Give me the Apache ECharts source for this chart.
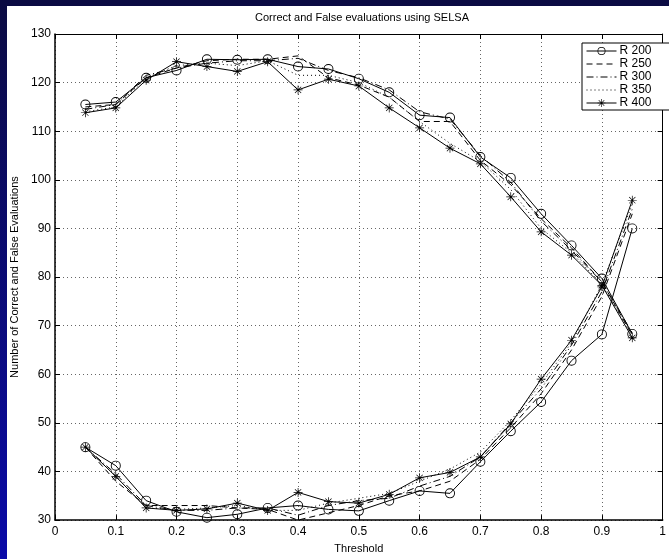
<!DOCTYPE html>
<html><head><meta charset="utf-8">
<script src="https://cdn.jsdelivr.net/npm/echarts@6/dist/echarts.min.js"></script>
<style>
html,body{margin:0;padding:0;}
#bg{position:absolute;left:0;top:0;width:669px;height:559px;background:linear-gradient(to bottom,#0b0b42,#0a0aa8);overflow:hidden;}
#paper{position:absolute;left:7px;top:6px;width:662px;height:553px;background:#fff;}
#chart{position:absolute;left:0;top:0;width:669px;height:559px;}
</style></head>
<body>
<div id="bg"><div id="paper"></div><div id="chart"></div></div>
<script>
const thresholds = [0.05,0.1,0.15,0.2,0.25,0.3,0.35,0.4,0.45,0.5,0.55,0.6,0.65,0.7,0.75,0.8,0.85,0.9,0.95];
const seriesNames = ['R 200','R 250','R 300','R 350','R 400'];
// upper (correct) curves
const correctR200 = [115.5,116,121,122.5,124.8,124.7,124.8,123.3,122.8,120.8,118,113.3,112.8,104.7,100.4,93,86.5,79.7,68.3];
const correctR250 = [115,115.5,121,123,124.5,124.8,124.8,125.5,121,119.5,117,112,112,104,99,92,86,79,68];
const correctR300 = [114.5,115.5,121.5,123,124,124.5,124.5,125,122.5,121,118.5,114,112.5,105,99.5,91.5,85.5,79,68.5];
const correctR350 = [114,115,121,123.5,124,123.5,124.5,121.5,121.5,120,117,112,107.5,103.8,98,90,85,78.5,68];
const correctR400 = [113.8,114.8,120.5,124.3,123.3,122.3,124.3,118.5,120.7,119.3,114.8,110.7,106.5,103.3,96.5,89.3,84.5,78.3,67.5];
// lower (false) curves
const falseR200 = [45,41.2,34,31.7,30.5,31.2,32.5,33,32.2,31.9,34,36,35.5,42,48.3,54.3,62.8,68.2,90];
const falseR250 = [45,38,33,33,33,32.5,32.2,30,31.5,33,35,36,38,42.5,49,56,65,76,93];
const falseR300 = [45,39.5,33,32,32,32.5,32.5,31,33,34,34.5,37,39,43,50,57,66,77,94];
const falseR350 = [45,39,32.5,32.2,32.5,33,32,32,33.5,34.5,35.5,38,40.5,44,50.5,58,66.5,78.5,95];
const falseR400 = [45,39,32.5,32,32.3,33.5,32,35.7,33.8,33.5,35.3,38.7,39.8,43,49.8,59,67,78,95.8];
const yTicks = [30,40,50,60,70,80,90,100,110,120,130];

const correctSets = [correctR200,correctR250,correctR300,correctR350,correctR400];
const falseSets = [falseR200,falseR250,falseR300,falseR350,falseR400];

const ringPath = 'path://M5,0A5,5 0 1,1 5,10A5,5 0 1,1 5,0Z M5,0.9A4.1,4.1 0 1,0 5,9.1A4.1,4.1 0 1,0 5,0.9Z';
const starPath = 'path://M0,4.6L10,4.6L10,5.4L0,5.4Z M4.6,0L5.4,0L5.4,10L4.6,10Z M1.25,1.8L1.8,1.25L8.75,8.2L8.2,8.75Z M8.2,1.25L8.75,1.8L1.8,8.75L1.25,8.2Z';
const styles = [
  {type:'solid', symbol:ringPath, size:10},
  {type:[6,4], symbol:'none', size:0},
  {type:[7,3,1,3], symbol:'none', size:0},
  {type:[1,3], symbol:'none', size:0},
  {type:'solid', symbol:starPath, size:9}
];
const FONT = '"Liberation Sans", Arial, sans-serif';

const series = [];
seriesNames.forEach((name,i)=>{
  [correctSets[i], falseSets[i]].forEach(vals=>{
    series.push({
      name: name, type:'line',
      data: thresholds.map((t,k)=>[t, vals[k]]),
      symbol: styles[i].symbol, symbolSize: styles[i].size,
      showSymbol: styles[i].symbol !== 'none',
      lineStyle:{color:'#000', width:1, type:styles[i].type},
      itemStyle:{color:'#000', borderWidth:0},
      emphasis:{disabled:true}
    });
  });
});

const legendData = seriesNames.map((n,i)=> styles[i].symbol==='none'
  ? {name:n, itemStyle:{color:'transparent', borderColor:'transparent', opacity:0}}
  : {name:n});

const chart = echarts.init(document.getElementById('chart'), null, {renderer:'canvas'});
chart.setOption({
  animation:false,
  backgroundColor:'transparent',
  textStyle:{fontFamily:FONT},
  title:{text:'Correct and False evaluations using SELSA', left:362, textAlign:'center', top:12, padding:0,
    textStyle:{fontSize:11, fontWeight:'normal', color:'#000', fontFamily:FONT}},
  legend:{
    data: legendData, orient:'vertical', left:582, top:43,
    backgroundColor:'#fff', borderColor:'#000', borderWidth:1,
    padding:[2,20,1,4], itemGap:1, itemWidth:30, itemHeight:10,
    lineStyle:{width:1},
    textStyle:{fontSize:12, color:'#000', fontFamily:FONT, padding:[0,0,0,-2]},
    selectedMode:false
  },
  grid:{left:55, top:34, width:615, bottom:36, containLabel:false},
  xAxis:[{
    type:'value', min:0, max:1, interval:0.1, position:'bottom',
    name:'Threshold', nameLocation:'middle', nameGap:21,
    nameTextStyle:{fontSize:11, color:'#000', fontFamily:FONT},
    axisLine:{onZero:false, lineStyle:{color:'#000', width:1.5}},
    axisTick:{inside:true, length:5, lineStyle:{color:'#000'}},
    axisLabel:{fontSize:12, color:'#000', margin:6, fontFamily:FONT, formatter:v=>String(Math.round(v*10)/10)},
    splitLine:{show:true, lineStyle:{color:'#666', type:[1,3], width:1}}
  },{
    type:'value', min:0, max:1, interval:0.1, position:'top',
    axisLine:{onZero:false, lineStyle:{color:'#000', width:1}},
    axisTick:{inside:true, length:5, lineStyle:{color:'#000'}},
    axisLabel:{show:false}, splitLine:{show:false}
  }],
  yAxis:[{
    type:'value', min:yTicks[0], max:yTicks[yTicks.length-1], interval:10,
    name:'Number of Correct and False Evaluations', nameLocation:'middle', nameGap:33,
    nameTextStyle:{fontSize:11, color:'#000', fontFamily:FONT},
    axisLine:{show:true, onZero:false, lineStyle:{color:'#000', width:1.5}},
    axisTick:{inside:true, length:5, lineStyle:{color:'#000'}},
    axisLabel:{fontSize:12, color:'#000', margin:4, fontFamily:FONT},
    splitLine:{show:true, lineStyle:{color:'#666', type:[1,3], width:1}}
  },{
    type:'value', min:yTicks[0], max:yTicks[yTicks.length-1], interval:10, position:'right',
    axisLine:{show:true, onZero:false, lineStyle:{color:'#000'}},
    axisTick:{inside:true, length:5, lineStyle:{color:'#000'}},
    axisLabel:{show:false}, splitLine:{show:false}
  }],
  series: series
});
</script>
</body></html>
